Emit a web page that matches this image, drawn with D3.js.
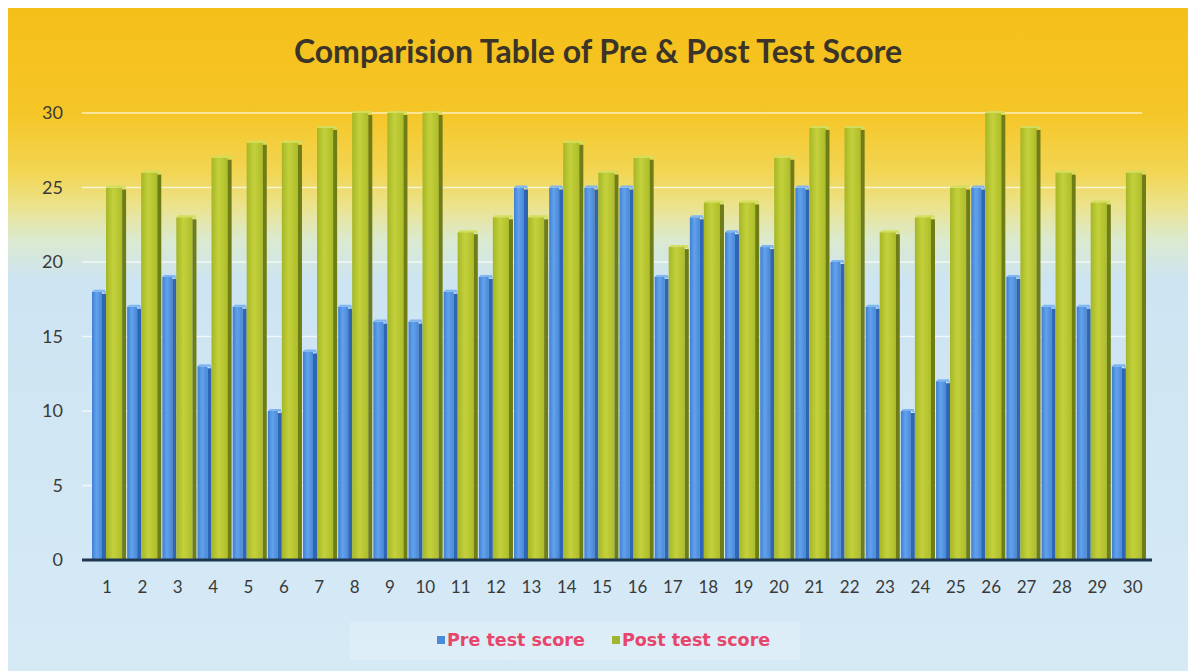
<!DOCTYPE html>
<html>
<head>
<meta charset="utf-8">
<script src="https://cdn.jsdelivr.net/npm/d3@7/dist/d3.min.js"></script>
<style>
  body { margin: 0; background: #ffffff; }
  svg { display: block; }
</style>
</head>
<body>
<div id="chart"></div>
<script>
// dati
var studenti = d3.range(1, 31).map(String);
var preTest  = [18,17,19,13,17,10,14,17,16,16,18,19,25,25,25,25,19,23,22,21,25,20,17,10,12,25,19,17,17,13];
var postTest = [25,26,23,27,28,28,29,30,30,30,22,23,23,28,26,27,21,24,24,27,29,29,22,23,25,30,29,26,24,26];
var yTicks = [0,5,10,15,20,25,30];
var serie = ["Pre test score", "Post test score"];

var larghezza = 1188, altezza = 671;

var svg = d3.select("#chart").append("svg")
  .attr("width", larghezza)
  .attr("height", altezza);

var defs = svg.append("defs");

// sfondo giallo -> azzurro
var sfondo = defs.append("linearGradient").attr("id", "sfondo")
  .attr("x1", 0).attr("y1", 0).attr("x2", 0).attr("y2", 1);
[[0, "#f5bf19"], [0.16, "#f5c628"], [0.25, "#f2d655"], [0.30, "#ebe38e"],
 [0.35, "#dbead0"], [0.41, "#cde4f2"], [1, "#d6eaf6"]].forEach(function(s){
  sfondo.append("stop").attr("offset", s[0]).attr("stop-color", s[1]);
});

function gradiente(id, c1, c2, c3){
  var g = defs.append("linearGradient").attr("id", id)
    .attr("x1", 0).attr("y1", 0).attr("x2", 1).attr("y2", 0);
  g.append("stop").attr("offset", 0).attr("stop-color", c1);
  g.append("stop").attr("offset", 0.45).attr("stop-color", c2);
  g.append("stop").attr("offset", 1).attr("stop-color", c3);
}
gradiente("blu", "#3f7fd2", "#62a2ec", "#4a88d8");
gradiente("verde", "#a5b626", "#c4d13c", "#adbd2a");

svg.append("rect")
  .attr("x", 8).attr("y", 8)
  .attr("width", larghezza - 8).attr("height", altezza - 8)
  .attr("fill", "url(#sfondo)");

var x = d3.scaleBand()
  .domain(studenti)
  .range([92, 1146])
  .paddingInner(0.03);

var y = d3.scaleLinear()
  .domain([0, 30])
  .range([560, 113]);

var bw = x.bandwidth();
var wBlu = bw * 0.41;
var wVerde = bw - wBlu;
var lato = 4;

// griglia
svg.append("g").selectAll("line")
  .data(yTicks.filter(function(d){ return d > 0; }))
  .enter().append("line")
  .attr("x1", 82).attr("x2", 1142)
  .attr("y1", function(d){ return y(d); })
  .attr("y2", function(d){ return y(d); })
  .attr("stroke", "#ffffff")
  .attr("stroke-opacity", 0.7)
  .attr("stroke-width", 1.5);

// asse y
var assey = svg.append("g")
  .attr("transform", "translate(63,0)")
  .call(d3.axisLeft(y).tickValues(yTicks).tickSize(0).tickPadding(0));
assey.select(".domain").remove();
assey.selectAll("text")
  .attr("font-family", "Lato, 'Open Sans', sans-serif")
  .attr("font-size", 18)
  .attr("fill", "#3a3a3a");

// barre
var gruppi = svg.append("g").selectAll("g")
  .data(studenti)
  .enter().append("g")
  .attr("transform", function(d){ return "translate(" + x(d) + ",0)"; });

function barra(sel, valori, x0, w, fill, scuro, cima){
  sel.append("rect")
    .attr("x", x0)
    .attr("y", function(d, i){ return y(valori[i]); })
    .attr("width", w - lato)
    .attr("height", function(d, i){ return y(0) - y(valori[i]); })
    .attr("fill", fill);
  sel.append("rect")
    .attr("x", x0 + w - lato)
    .attr("y", function(d, i){ return y(valori[i]) + 2; })
    .attr("width", lato)
    .attr("height", function(d, i){ return y(0) - y(valori[i]) - 2; })
    .attr("fill", scuro);
  sel.append("path")
    .attr("d", function(d, i){
      var t = y(valori[i]);
      return "M" + x0 + "," + t + "L" + (x0 + 2) + "," + (t - 2) +
        "L" + (x0 + w - 1) + "," + (t - 2) + "L" + (x0 + w) + "," + (t + 2) +
        "L" + (x0 + w - lato) + "," + t + "Z";
    })
    .attr("fill", cima);
}
barra(gruppi, preTest, 0, wBlu, "url(#blu)", "#2f66b3", "#7fb6f2");
barra(gruppi, postTest, wBlu, wVerde, "url(#verde)", "#6f7d17", "#d3de5c");

// asse x
svg.append("line")
  .attr("x1", 82).attr("x2", 1152)
  .attr("y1", y(0)).attr("y2", y(0))
  .attr("stroke", "#1e3650")
  .attr("stroke-width", 3);

svg.append("g").selectAll("text")
  .data(studenti)
  .enter().append("text")
  .attr("x", function(d, i){ return x(d) + wBlu + 1 + i * 0.2; })
  .attr("y", 593)
  .attr("text-anchor", "middle")
  .attr("font-family", "Lato, 'Open Sans', sans-serif")
  .attr("font-size", 17)
  .attr("fill", "#3a3a3a")
  .text(function(d){ return d; });

// titolo
svg.append("text")
  .attr("x", 598).attr("y", 63)
  .attr("text-anchor", "middle")
  .attr("font-family", "Lato, 'Open Sans', sans-serif")
  .attr("font-weight", "bold")
  .attr("font-size", 32)
  .attr("fill", "#3b3428")
  .text("Comparision Table of Pre & Post Test Score");

// legenda
svg.append("rect")
  .attr("x", 350).attr("y", 622)
  .attr("width", 450).attr("height", 38)
  .attr("fill", "#ffffff").attr("fill-opacity", 0.2);

var legenda = svg.append("g").selectAll("g")
  .data(serie)
  .enter().append("g")
  .attr("transform", function(d, i){ return "translate(" + [437, 612][i] + ",641)"; });
legenda.append("rect")
  .attr("x", 0).attr("y", -5)
  .attr("width", 8).attr("height", 8)
  .attr("fill", function(d, i){ return ["#4a8ad8", "#9fb52e"][i]; });
legenda.append("text")
  .attr("x", 10).attr("y", 5)
  .attr("font-family", "'DejaVu Sans', sans-serif")
  .attr("font-weight", "bold")
  .attr("font-size", 17.5)
  .attr("fill", "#e8456c")
  .text(function(d){ return d; });
</script>
</body>
</html>
